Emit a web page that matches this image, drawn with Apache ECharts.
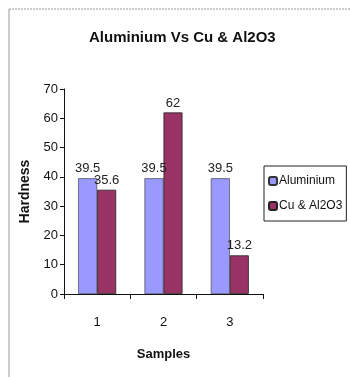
<!DOCTYPE html>
<html>
<head>
<meta charset="utf-8">
<script src="https://cdn.jsdelivr.net/npm/echarts@6/dist/echarts.min.js"></script>
<style>
html,body{margin:0;padding:0;background:#fff;}
#chart{width:350px;height:377px;}
</style>
</head>
<body>
<div id="chart"></div>
<script>
var samples = ['1', '2', '3'];
var aluminium = [39.5, 39.5, 39.5];
var cuAl2o3 = [35.6, 62, 13.2];

var myChart = echarts.init(document.getElementById('chart'));
var option = {
    animation: false,
    backgroundColor: '#fff',
    title: {
        text: 'Aluminium Vs Cu & Al2O3',
        left: 89,
        top: 30,
        padding: 0,
        textStyle: {fontFamily: 'Liberation Sans', fontSize: 15, fontWeight: 'bold', color: '#111'}
    },
    legend: {
        data: ['Aluminium', 'Cu & Al2O3'],
        orient: 'vertical',
        left: 264,
        top: 166,
        itemWidth: 8,
        itemHeight: 8,
        itemGap: 13,
        padding: [9, 4, 9, 4],
        borderColor: '#222',
        borderWidth: 1,
        textStyle: {fontFamily: 'Liberation Sans', fontSize: 12, color: '#111', padding: [0, 0, 0, -3]}
    },
    grid: {left: 64, top: 89, width: 199, height: 205},
    xAxis: [{
        type: 'category',
        data: samples,
        name: 'Samples',
        nameLocation: 'middle',
        nameGap: 54,
        nameTextStyle: {fontFamily: 'Liberation Sans', fontSize: 13, fontWeight: 'bold', color: '#111'},
        axisLine: {lineStyle: {color: '#111'}},
        axisTick: {show: true, length: 5, lineStyle: {color: '#111'}},
        axisLabel: {margin: 22, fontFamily: 'Liberation Sans', fontSize: 13, color: '#111'}
    }],
    yAxis: [{
        type: 'value',
        min: 0,
        max: 70,
        interval: 10,
        name: 'Hardness',
        nameLocation: 'middle',
        nameGap: 28,
        nameTextStyle: {fontFamily: 'Liberation Sans', fontSize: 14, fontWeight: 'bold', color: '#111'},
        axisLine: {show: true, lineStyle: {color: '#111'}},
        axisTick: {show: true, length: 4, lineStyle: {color: '#111'}},
        axisLabel: {margin: 6, fontFamily: 'Liberation Sans', fontSize: 13, color: '#111'},
        splitLine: {show: false}
    }],
    series: [
        {
            name: 'Aluminium',
            type: 'bar',
            data: aluminium,
            barWidth: 19,
            barGap: '0%',
            itemStyle: {color: '#9999FF', borderColor: '#333', borderWidth: 0.6},
            label: {show: true, position: 'top', distance: 3, fontFamily: 'Liberation Sans', fontSize: 13, color: '#222'}
        },
        {
            name: 'Cu & Al2O3',
            type: 'bar',
            data: cuAl2o3,
            barWidth: 19,
            itemStyle: {color: '#993366', borderColor: '#222', borderWidth: 0.8},
            label: {show: true, position: 'top', distance: 3, fontFamily: 'Liberation Sans', fontSize: 13, color: '#222'}
        }
    ],
    graphic: [
        {type: 'line', shape: {x1: 9, y1: 9, x2: 350, y2: 9}, style: {stroke: '#999', lineWidth: 1, lineDash: [2, 1]}},
        {type: 'line', shape: {x1: 9, y1: 9, x2: 9, y2: 377}, style: {stroke: '#999', lineWidth: 1}}
    ]
};
myChart.setOption(option);
</script>
</body>
</html>
